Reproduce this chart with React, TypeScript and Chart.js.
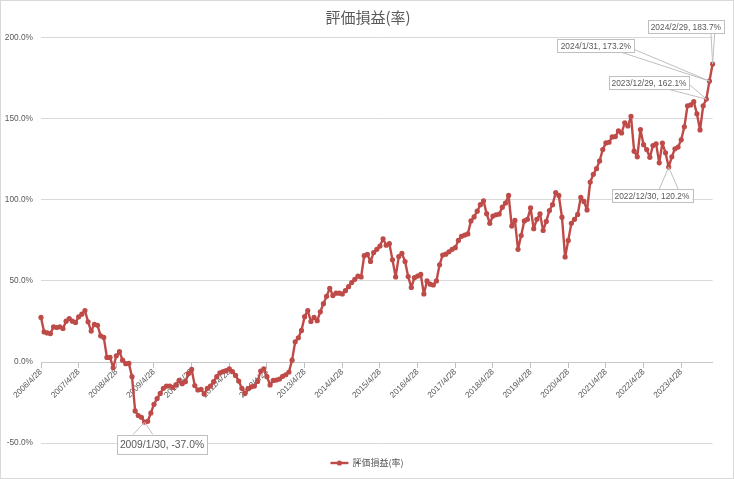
import React, { useEffect, useRef } from "react";
import { Chart, registerables } from "chart.js";

Chart.register(...registerables);

// ---- data ----
const chartTitle = "評価損益(率)";
const seriesName = "評価損益(率)";
const startYear = 2006;
const startMonth = 4;

// monthly values (%), 2006/4 .. 2024/2
const values: number[] = [
  27.5, 18.6, 18.0, 17.6, 21.7, 21.3, 21.7, 20.7, 25.2, 26.8, 25.2, 24.4,
  27.9, 29.5, 31.8, 24.8, 19.1, 23.2, 22.7, 16.2, 15.2, 2.9, 2.9, -3.5,
  3.9, 6.4, 1.2, -1.0, -0.8, -9.0, -30.1, -33.0, -34.0, -37.0, -36.5, -31.4,
  -26.0, -22.5, -19.3, -16.2, -14.8, -14.8, -15.6, -14.1, -11.3, -13.3, -12.1, -7.0,
  -4.5, -14.5, -17.2, -16.8, -19.7, -16.2, -14.8, -12.1, -9.0, -6.6, -5.9, -5.3,
  -4.1, -5.9, -8.2, -11.7, -16.2, -19.3, -16.4, -15.2, -14.8, -11.9, -5.5, -4.1,
  -9.0, -14.1, -11.3, -11.1, -10.5, -8.8, -7.8, -6.1, 1.2, 12.5, 15.0, 19.5,
  28.0, 31.8, 25.0, 27.5, 25.5, 31.0, 36.0, 40.5, 45.5, 41.0, 42.5, 42.5,
  42.0, 44.0, 46.5, 49.0, 51.0, 53.0, 52.5, 65.6, 66.4, 62.0, 67.5, 69.5,
  71.5, 76.0, 72.0, 73.0, 63.0, 52.5, 65.0, 67.0, 62.0, 52.7, 46.0, 52.0,
  53.0, 54.0, 42.0, 50.0, 48.0, 47.5, 50.0, 60.0, 66.0, 66.5, 68.0, 69.5,
  70.5, 75.0, 77.5, 78.3, 79.0, 87.0, 89.5, 93.0, 97.0, 99.4, 91.5, 85.5,
  90.0, 90.8, 91.2, 95.5, 98.0, 102.7, 83.8, 87.3, 69.5, 78.0, 87.0, 88.0,
  95.0, 82.2, 88.0, 91.4, 81.1, 86.7, 93.4, 97.0, 104.5, 102.7, 89.3, 64.8,
  75.0, 85.5, 88.0, 91.0, 101.6, 99.0, 93.8, 111.0, 115.7, 119.2, 124.0, 131.0,
  135.1, 135.5, 138.8, 139.0, 142.5, 141.2, 147.5, 145.5, 151.5, 130.0, 126.5, 143.3,
  134.0, 131.0, 126.2, 133.5, 134.5, 122.8, 135.0, 129.0, 120.2, 126.5, 131.5, 132.5,
  137.0, 145.0, 158.0, 158.5, 160.5, 153.0, 143.1, 158.0, 162.1, 173.2, 183.7,
];

const tickLabels = [
  "2006/4/28", "2007/4/28", "2008/4/28", "2009/4/28", "2010/4/28", "2011/4/28",
  "2012/4/28", "2013/4/28", "2014/4/28", "2015/4/28", "2016/4/28", "2017/4/28",
  "2018/4/28", "2019/4/28", "2020/4/28", "2021/4/28", "2022/4/28", "2023/4/28",
];
const tickEvery = 12;

const yMin = -50;
const yMax = 200;
const yStep = 50;

const calloutIndex = [33, 200, 212, 213, 214];
const calloutDates = ["2009/1/30", "2022/12/30", "2023/12/29", "2024/1/31", "2024/2/29"];

// category keys (one per month)
const categories = values.map((_, i) => {
  const m = startMonth - 1 + i;
  return `${startYear + Math.floor(m / 12)}/${(m % 12) + 1}`;
});

// ---- style / layout ----
const W = 734;
const H = 479;
const lineColor = "#BE4B48";
const textColor = "#595959";
const numFont = '"Liberation Sans", Arial, sans-serif';
const cjkFont = '"Noto Sans CJK JP", "Noto Sans", sans-serif';

const calloutLayout = [
  { dx: -27.6, dy: 12.6, w: 90, h: 19, font: 10.3, base: [[16, 0], [36, 0]] },
  { dx: -57, dy: 22.2, w: 80.6, h: 13.4, font: 8.4, base: [[47.6, 0], [66.6, 0]] },
  { dx: -97.3, dy: -22.9, w: 80, h: 13.3, font: 8.4, base: [[60, 13.3], [80, 8]] },
  { dx: -152.1, dy: -41.6, w: 77, h: 12.7, font: 8.4, base: [[63.7, 12.7], [77, 10]] },
  { dx: -64.9, dy: -43.8, w: 76.3, h: 13.3, font: 8.4, base: [[63.3, 13.3], [67, 13.3]] },
];

const calloutPlugin = {
  id: "callouts",
  afterDatasetsDraw(chart: any) {
    const meta = chart.getDatasetMeta(0);
    const ctx = chart.ctx as CanvasRenderingContext2D;
    calloutIndex.forEach((idx, k) => {
      const pt = meta.data[idx];
      if (!pt) return;
      const L = calloutLayout[k];
      const bx = pt.x + L.dx;
      const by = pt.y + L.dy;
      ctx.save();
      ctx.strokeStyle = "#bfbfbf";
      ctx.lineWidth = 1;
      ctx.beginPath();
      ctx.moveTo(pt.x, pt.y);
      ctx.lineTo(bx + L.base[0][0], by + L.base[0][1]);
      ctx.moveTo(pt.x, pt.y);
      ctx.lineTo(bx + L.base[1][0], by + L.base[1][1]);
      ctx.stroke();
      ctx.fillStyle = "#ffffff";
      ctx.fillRect(bx, by, L.w, L.h);
      ctx.strokeRect(Math.round(bx) + 0.5, Math.round(by) + 0.5, Math.round(L.w), Math.round(L.h));
      const text = `${calloutDates[k]}, ${values[idx].toFixed(1)}%`;
      ctx.fillStyle = textColor;
      ctx.font = `${L.font}px ${numFont}`;
      ctx.textAlign = "center";
      ctx.textBaseline = "middle";
      ctx.fillText(text, bx + L.w / 2, by + L.h / 2 + 0.5);
      ctx.restore();
    });
  },
};

const decorPlugin = {
  id: "decor",
  afterDraw(chart: any) {
    const ctx = chart.ctx as CanvasRenderingContext2D;
    ctx.save();
    // chart border
    ctx.strokeStyle = "#d9d9d9";
    ctx.lineWidth = 1;
    ctx.strokeRect(0.5, 0.5, W - 1, H - 1);
    // title
    ctx.fillStyle = textColor;
    ctx.font = `15px ${cjkFont}`;
    ctx.textAlign = "center";
    ctx.textBaseline = "middle";
    ctx.fillText(chartTitle, W / 2 + 1, 17);
    // legend
    ctx.font = `9px ${cjkFont}`;
    const tw = ctx.measureText(seriesName).width;
    const lineLen = 18;
    const gap = 4;
    const total = lineLen + gap + tw;
    const x0 = W / 2 - total / 2;
    const ly = 463;
    ctx.strokeStyle = lineColor;
    ctx.lineWidth = 2.4;
    ctx.beginPath();
    ctx.moveTo(x0, ly);
    ctx.lineTo(x0 + lineLen, ly);
    ctx.stroke();
    ctx.fillStyle = lineColor;
    ctx.beginPath();
    ctx.arc(x0 + lineLen / 2, ly, 2.6, 0, Math.PI * 2);
    ctx.fill();
    ctx.fillStyle = textColor;
    ctx.textAlign = "left";
    ctx.fillText(seriesName, x0 + lineLen + gap, ly);
    ctx.restore();
  },
};

export default function App() {
  const ref = useRef<HTMLCanvasElement>(null);
  useEffect(() => {
    if (!ref.current) return;
    const chart = new Chart(ref.current, {
      type: "line",
      data: {
        labels: categories,
        datasets: [
          {
            label: seriesName,
            data: values,
            borderColor: lineColor,
            backgroundColor: lineColor,
            pointBackgroundColor: lineColor,
            pointBorderColor: lineColor,
            pointBorderWidth: 0,
            pointRadius: 2.6,
            borderWidth: 2.4,
            borderJoinStyle: "round",
            tension: 0,
          },
        ],
      },
      options: {
        responsive: false,
        animation: false,
        layout: { padding: { top: 37.6, right: 21.4, bottom: 35.8, left: 0 } },
        plugins: {
          legend: { display: false },
          title: { display: false },
          tooltip: { enabled: false },
        },
        scales: {
          x: {
            type: "category",
            position: { y: 0 } as any,
            offset: false,
            grid: {
              drawOnChartArea: false,
              drawTicks: true,
              tickLength: 5,
              color: "#bfbfbf",
            },
            border: { display: true, color: "#c8c8c8", width: 1 },
            ticks: {
              autoSkip: false,
              maxRotation: 45,
              minRotation: 45,
              padding: 0,
              color: textColor,
              font: { family: numFont, size: 8.3 },
              callback: (_v: any, index: number) =>
                index % tickEvery === 0 ? tickLabels[index / tickEvery] ?? null : null,
            },
          },
          y: {
            min: yMin,
            max: yMax,
            afterFit: (s: any) => {
              s.width = 41;
            },
            grid: { color: "#d9d9d9", drawTicks: false },
            border: { display: false },
            ticks: {
              stepSize: yStep,
              padding: 8,
              color: textColor,
              font: { family: numFont, size: 8.3 },
              callback: (v: any) => `${Number(v).toFixed(1)}%`,
            },
          },
        },
      },
      plugins: [calloutPlugin, decorPlugin],
    } as any);
    return () => chart.destroy();
  }, []);
  return (
    <div style={{ position: "fixed", left: 0, top: 0, width: W, height: H, background: "#fff" }}>
      <canvas ref={ref} width={W} height={H} style={{ display: "block", width: W, height: H }} />
    </div>
  );
}
